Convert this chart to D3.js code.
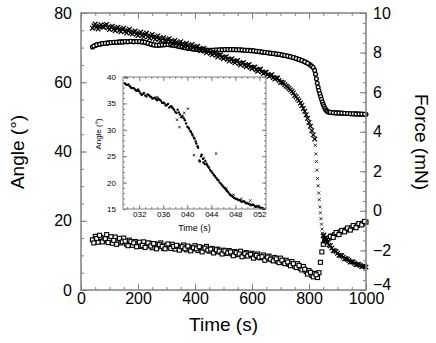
<!DOCTYPE html>
<html lang="en">
<head>
<meta charset="UTF-8">
<script src="https://cdnjs.cloudflare.com/ajax/libs/d3/7.8.5/d3.min.js"></script>
<style>
    body { margin: 0; background: #fff; font-family: "Liberation Sans", Arial, sans-serif; }
    svg { display: block; }
</style>
</head>
<body>
<div id="chart"></div>
<script>
// ---- data ----
// angle, x markers (two interleaved samplings)
const crossTimes = [40,50,60,70,80,90,100,110,120,130,140,150,160,170,180,190,200,210,220,230,240,250,260,270,280,290,300,310,320,330,340,350,360,370,380,390,400,410,420,430,440,450,460,470,480,490,500,510,520,530,540,550,560,570,580,590,600,610,620,630,640,650,660,670,680,690,700,710,720,730,740,750,760,770,780,790,800,805,810,815,820,
    822,824,826,828,830,832,834,836,838,840,842,844,846,848,
    850,855,860,865,870,880,890,900,910,920,930,940,950,960,970,980,990,1000];
const crossAngle = [75.6,76.8,75.4,76.6,75.9,76.7,75.2,76.2,74.9,75.9,74.6,75.6,74.2,75.3,73.9,74.8,73.5,74.5,73.1,74.2,72.7,73.8,72.4,73.4,72.0,72.9,71.7,72.6,71.2,72.1,70.8,71.7,70.4,71.3,70.0,70.9,69.6,70.4,69.1,69.8,68.5,69.2,67.9,68.6,67.3,67.9,66.8,67.4,66.1,66.8,65.6,66.3,65.0,65.7,64.5,65.1,63.9,64.4,63.2,63.8,62.5,62.9,61.7,62.2,60.9,61.2,60.0,59.8,58.9,58.2,57.4,56.2,55.2,54.0,52.4,50.6,48.4,47.3,46.0,44.8,43.6,
    41.8,39.3,37.1,34.6,32.2,30.1,28.0,26.1,24.0,22.3,20.6,19.0,17.6,16.4,
    15.6,14.8,14.2,13.6,13.0,12.1,11.3,10.6,10.0,9.5,9.0,8.5,8.1,7.7,7.4,7.1,6.9,6.6];
const crossTimesB = [45,55,65,75,85,95,105,115,125,135,145,155,165,175,185,195,205,215,225,235,245,255,265,275,285,295,305,315,325,335,345,355,365,375,385,395,405,415,425,435,445,455,465,475,485,495,505,515,525,535,545,555,565,575,585,595,605,615,625,635,645,655,665,675,685,695,705,715,725,735,745,755,765,775,785,795,
    852,857,862,875,885,895,905,915,925,935,945,955,965,975,985,995];
const crossAngleB = [76.3,75.9,76.2,76.0,76.4,75.7,75.9,75.3,75.6,75.0,75.3,74.7,74.9,74.3,74.5,73.9,74.1,73.6,73.8,73.2,73.4,72.9,73.0,72.5,72.6,72.1,72.3,71.7,71.8,71.3,71.4,70.9,71.0,70.5,70.6,70.1,70.2,69.6,69.6,69.0,69.0,68.4,68.4,67.8,67.8,67.2,67.2,66.6,66.6,66.0,66.1,65.4,65.5,64.9,64.9,64.3,64.3,63.6,63.6,63.0,62.8,62.2,62.0,61.4,61.2,60.5,60.0,59.3,58.6,57.8,56.9,55.8,54.7,53.3,51.6,49.6,
    15.9,14.4,14.6,12.8,11.4,11.1,10.0,9.9,9.0,8.9,8.1,8.1,7.3,7.4,6.7,6.9];

// force, open circles (two interleaved samplings)
const circleTimes = [40,50,60,70,80,90,100,110,120,130,140,150,160,170,180,190,200,210,220,230,240,250,260,270,280,290,300,310,320,330,340,350,360,370,380,390,400,410,420,430,440,450,460,470,480,490,500,510,520,530,540,550,560,570,580,590,600,610,620,630,640,650,660,670,680,690,700,710,720,730,740,750,760,770,780,790,800,805,810,815,820,
    823,826,829,832,835,838,841,844,847,850,853,856,859,862,865,870,880,890,900,910,920,930,940,950,960,970,980,990,1000];
const circleForce = [8.28,8.36,8.41,8.44,8.46,8.48,8.50,8.51,8.52,8.53,8.54,8.55,8.55,8.56,8.56,8.56,8.55,8.55,8.54,8.50,8.45,8.40,8.38,8.37,8.38,8.40,8.41,8.40,8.38,8.36,8.33,8.30,8.27,8.24,8.21,8.19,8.17,8.15,8.14,8.13,8.13,8.12,8.12,8.13,8.13,8.14,8.14,8.15,8.15,8.15,8.15,8.14,8.14,8.13,8.12,8.11,8.10,8.08,8.06,8.04,8.02,8.00,7.98,7.96,7.94,7.92,7.90,7.87,7.84,7.81,7.77,7.73,7.68,7.63,7.57,7.50,7.42,7.37,7.31,7.24,7.10,
    6.90,6.68,6.45,6.25,6.08,5.92,5.78,5.64,5.50,5.38,5.27,5.18,5.11,5.06,5.02,4.99,4.97,4.96,4.95,4.94,4.93,4.92,4.92,4.91,4.90,4.90,4.89,4.88,4.88];
const circleTimesB = [45,55,65,75,85,95,105,115,125,135,145,155,165,175,185,195,205,215,225,235,245,255,265,275,285,295,305,315,325,335,345,355,365,375,385,395,405,415,425,435,445,455,465,475,485,495,505,515,525,535,545,555,565,575,585,595,605,615,625,635,645,655,665,675,685,695,705,715,725,735,745,755,765,775,785,795,
    875,885,895,905,915,925,935,945,955,965,975,985,995];
const circleForceB = [8.33,8.40,8.42,8.46,8.47,8.49,8.51,8.52,8.52,8.54,8.54,8.56,8.55,8.57,8.55,8.56,8.56,8.54,8.52,8.47,8.43,8.39,8.37,8.38,8.39,8.40,8.41,8.39,8.37,8.35,8.31,8.28,8.25,8.22,8.20,8.18,8.16,8.14,8.14,8.13,8.12,8.12,8.12,8.13,8.14,8.14,8.15,8.15,8.15,8.15,8.14,8.14,8.13,8.12,8.11,8.09,8.09,8.07,8.05,8.03,8.01,7.99,7.97,7.95,7.93,7.91,7.88,7.85,7.83,7.79,7.75,7.70,7.65,7.60,7.54,7.46,
    4.98,4.96,4.95,4.95,4.94,4.93,4.92,4.91,4.91,4.90,4.89,4.89,4.88];

// angle, open squares (two interleaved samplings)
const squareTimes = [40,50,60,70,80,90,100,110,120,130,140,150,160,170,180,190,200,210,220,230,240,250,260,270,280,290,300,310,320,330,340,350,360,370,380,390,400,410,420,430,440,450,460,470,480,490,500,510,520,530,540,550,560,570,580,590,600,610,620,630,640,650,660,670,680,690,700,710,720,730,740,750,760,770,780,790,800,810,820,830,
    835,840,845,850,855,860,870,880,890,900,910,920,930,940,950,960,970,980,990,1000];
const squareAngle = [14.5,15.5,13.8,15.2,14.2,16.0,14.6,13.5,15.3,14.2,13.6,15.0,13.2,14.4,12.9,14.0,13.4,12.6,13.9,12.8,13.5,12.2,13.3,12.5,13.6,12.0,12.9,12.4,13.2,11.8,12.7,12.1,13.0,11.6,12.4,11.9,12.8,11.4,12.3,11.7,12.6,11.2,12.0,11.0,11.8,10.9,11.5,10.6,11.4,10.4,11.1,10.2,11.2,9.9,10.8,10.0,10.6,9.6,10.4,9.3,10.1,9.0,9.8,8.7,9.4,8.3,9.2,8.0,8.6,7.4,8.2,6.9,7.6,6.2,6.8,5.3,5.6,4.2,4.8,3.6,
    5.0,8.0,11.0,13.2,14.2,14.6,15.0,15.6,16.0,16.3,16.8,17.0,17.4,17.6,18.0,18.3,18.7,19.0,19.3,19.6];
const squareTimesB = [45,55,65,75,85,95,105,115,125,135,145,155,165,175,185,195,205,215,225,235,245,255,265,275,285,295,305,315,325,335,345,355,365,375,385,395,405,415,425,435,445,455,465,475,485,495,505,515,525,535,545,555,565,575,585,595,605,615,625,635,645,655,665,675,685,695,705,715,725,735,745,755,765,775,785,795,805,815,825,
    865,875,885,895,905,915,925,935,945,955,965,975,985,995];
const squareAngleB = [13.6,14.9,15.8,13.9,14.8,13.7,15.4,14.3,13.2,14.9,13.9,14.1,12.8,14.0,13.6,12.5,13.8,12.9,12.3,13.6,12.7,13.4,11.9,13.1,12.6,11.9,13.3,12.0,12.6,12.9,11.5,12.5,11.9,12.7,11.3,12.2,11.9,12.5,11.0,12.1,11.5,11.8,10.7,11.6,11.2,10.4,11.3,10.7,11.0,9.9,10.8,10.4,9.6,10.5,9.8,10.3,9.2,10.0,9.4,9.6,8.6,9.5,8.9,8.4,9.0,7.9,8.6,7.6,8.1,7.0,7.6,6.5,7.1,5.8,6.0,4.6,5.1,3.8,4.4,
    14.9,15.5,15.2,16.6,16.0,17.2,16.8,17.9,17.3,18.6,18.0,19.2,18.8,19.8];

// inset: angle vs time, filled dots and sparse x markers
const insetDotTimes = [0.296,0.298,0.300,0.302,0.304,0.306,0.308,0.310,0.312,0.314,0.316,0.318,0.320,0.322,0.324,0.326,0.328,0.330,0.332,0.334,0.336,0.338,0.340,0.342,0.344,0.346,0.348,0.350,0.352,0.354,0.356,0.358,0.360,0.362,0.364,0.366,0.368,0.370,0.372,0.374,0.376,0.378,0.380,0.382,0.384,0.386,0.388,0.390,0.392,0.394,0.396,0.398,0.400,0.402,0.403,0.405,0.406,0.408,0.409,0.411,0.412,0.414,0.415,0.417,0.418,0.420,0.421,0.423,0.424,0.426,0.427,0.429,0.430,0.432,0.433,0.435,0.436,0.438,0.440,0.442,0.444,0.446,0.448,0.450,0.452,0.454,0.456,0.458,0.460,0.462,0.464,0.466,0.468,0.470,0.472,0.474,0.476,0.478,0.480,0.482,0.484,0.486,0.488,0.490,0.492,0.494,0.496,0.498,0.500,0.502,0.504,0.506,0.508,0.510,0.512,0.514,0.516,0.518,0.520,0.522,0.524,0.526,0.528];
const insetDotAngle = [38.8,38.6,38.5,38.6,38.3,38.0,37.9,37.9,37.8,37.5,37.4,37.6,37.3,36.9,36.6,36.8,37.0,36.5,36.3,36.7,36.6,36.3,36.2,35.9,36.0,36.1,35.8,35.6,35.9,35.7,35.5,35.1,35.2,35.0,34.6,34.7,34.9,34.2,34.4,34.4,34.1,33.8,33.4,33.2,33.8,33.3,32.9,32.4,32.6,32.2,31.8,31.2,30.6,30.4,30.2,29.8,29.6,29.2,28.9,28.5,28.3,27.8,27.4,26.9,26.6,24.2,24.0,25.0,25.3,24.5,23.8,23.5,24.1,23.6,23.3,23.0,22.8,22.4,22.1,21.8,21.5,21.2,20.9,20.6,20.4,20.0,19.8,19.5,19.2,19.0,18.7,18.4,18.2,17.9,17.6,17.5,17.3,17.1,17.0,16.9,16.8,16.7,16.6,16.4,16.4,16.5,16.3,16.1,16.1,16.0,15.9,15.7,15.8,15.8,15.6,15.4,15.5,15.5,15.3,15.2,15.2,15.1,15.0];
const insetCrossTimes = [0.298,0.318,0.350,0.383,0.387,0.395,0.401,0.411,0.428,0.448,0.465,0.477,0.490,0.505,0.518];
const insetCrossAngle = [39.9,37.6,36.2,31.9,30.5,33.2,34.0,25.2,24.6,25.5,18.9,17.7,16.9,16.6,15.6];

// tick values
const timeTicks = [0,200,400,600,800,1000];
const angleTicks = [0,20,40,60,80];
const forceTicks = [-4,-2,0,2,4,6,8,10];
const insetTimeTicks = [0.32,0.36,0.40,0.44,0.48,0.52];
const insetTimeLabels = ["032","036","040","044","048","052"];
const insetAngleTicks = [15,20,25,30,35,40];

// ---- layout ----
const W = 436, H = 343;
const pL = 81, pR = 366, pT = 13, pB = 290;
const axisColor = "#808080";

const svg = d3.select("#chart").append("svg").attr("width", W).attr("height", H);

const x = d3.scaleLinear().domain([0, 1000]).range([pL, pR]);
const yA = d3.scaleLinear().domain([0, 80]).range([pB, pT]);
const yF = d3.scaleLinear().domain([-4, 10]).range([pB, pT]);

function minorTicks(a, b, step) {
    return d3.range(a, b + step / 2, step);
}

function styleAxis(g, fs) {
    g.selectAll(".domain").remove();
    g.selectAll("line").attr("stroke", axisColor).attr("stroke-width", 1);
    g.selectAll("text").attr("fill", "#000").style("font-size", fs + "px")
        .style("font-family", '"Liberation Sans", Arial, sans-serif');
}

const pairs = (ts, vs) => ts.map((t, i) => [t, vs[i]]);

// minor + major ticks, all pointing inward
svg.append("g").attr("transform", `translate(0,${pB})`)
    .call(d3.axisBottom(x).tickValues(minorTicks(0, 1000, 50)).tickSize(-3).tickFormat(""))
    .call(g => styleAxis(g, 16));
svg.append("g").attr("transform", `translate(0,${pB})`)
    .call(d3.axisBottom(x).tickValues(timeTicks).tickSize(-6).tickPadding(3).tickFormat(d3.format("d")))
    .call(g => styleAxis(g, 16));
svg.append("g").attr("transform", `translate(0,${pT})`)
    .call(d3.axisTop(x).tickValues(minorTicks(0, 1000, 50)).tickSize(-3).tickFormat(""))
    .call(g => styleAxis(g, 16));
svg.append("g").attr("transform", `translate(0,${pT})`)
    .call(d3.axisTop(x).tickValues(timeTicks).tickSize(-6).tickFormat(""))
    .call(g => styleAxis(g, 16));

svg.append("g").attr("transform", `translate(${pL},0)`)
    .call(d3.axisLeft(yA).tickValues(minorTicks(0, 80, 5)).tickSize(-3).tickFormat(""))
    .call(g => styleAxis(g, 16));
svg.append("g").attr("transform", `translate(${pL},0)`)
    .call(d3.axisLeft(yA).tickValues(angleTicks).tickSize(-6).tickPadding(9))
    .call(g => styleAxis(g, 16));

svg.append("g").attr("transform", `translate(${pR},0)`)
    .call(d3.axisRight(yF).tickValues(minorTicks(-4, 10, 0.5)).tickSize(-3).tickFormat(""))
    .call(g => styleAxis(g, 16));
svg.append("g").attr("transform", `translate(${pR},0)`)
    .call(d3.axisRight(yF).tickValues(forceTicks).tickSize(-6).tickPadding(7))
    .call(g => styleAxis(g, 16))
    .call(g => g.selectAll(".tick text").filter(d => d === -4).attr("y", -6));

// ---- series ----
const crossPath = s => `M${-s},${-s}L${s},${s}M${-s},${s}L${s},${-s}`;
// the fast drop (~820-850 s) is drawn with sparse, smaller crosses
const inDrop = t => t > 820 && t < 850;

svg.append("g").selectAll("rect")
    .data(pairs(squareTimes, squareAngle).concat(pairs(squareTimesB, squareAngleB)))
    .join("rect")
    .attr("x", d => x(d[0]) - 2).attr("y", d => yA(d[1]) - 2)
    .attr("width", 4).attr("height", 4)
    .attr("fill", "#fff").attr("stroke", "#000").attr("stroke-width", 1.1);

svg.append("g").selectAll("circle")
    .data(pairs(circleTimes, circleForce).concat(pairs(circleTimesB, circleForceB)))
    .join("circle")
    .attr("cx", d => x(d[0])).attr("cy", d => yF(d[1])).attr("r", 1.9)
    .attr("fill", "#fff").attr("stroke", "#000").attr("stroke-width", 1.3);

svg.append("g").selectAll("path")
    .data(pairs(crossTimes, crossAngle).concat(pairs(crossTimesB, crossAngleB)))
    .join("path")
    .attr("transform", d => `translate(${x(d[0])},${yA(d[1])})`)
    .attr("d", d => crossPath(inDrop(d[0]) ? 1.5 : 2.3))
    .attr("stroke", "#000").attr("stroke-width", d => inDrop(d[0]) ? 0.8 : 1.2)
    .attr("fill", "none");

// frame
svg.append("rect").attr("x", pL).attr("y", pT)
    .attr("width", pR - pL).attr("height", pB - pT)
    .attr("fill", "none").attr("stroke", axisColor).attr("stroke-width", 1.5);

// axis titles
svg.append("text").attr("x", (pL + pR) / 2).attr("y", 331)
    .attr("text-anchor", "middle").style("font-size", "19px").text("Time (s)");
svg.append("text").attr("transform", "translate(24,152) rotate(-90)")
    .attr("text-anchor", "middle").style("font-size", "19px").text("Angle (°)");
svg.append("text").attr("transform", "translate(415,142) rotate(90)")
    .attr("text-anchor", "middle").style("font-size", "19px").text("Force (mN)");

// ---- inset ----
const iL = 123, iR = 266, iT = 77, iB = 209;
const ix = d3.scaleLinear().domain([0.293, 0.531]).range([iL, iR]);
const iy = d3.scaleLinear().domain([15, 40]).range([iB, iT]);

const inset = svg.append("g");
inset.append("rect").attr("x", iL).attr("y", iT).attr("width", iR - iL).attr("height", iB - iT)
    .attr("fill", "#fff");

inset.append("g").attr("transform", `translate(0,${iB})`)
    .call(d3.axisBottom(ix).tickValues(minorTicks(0.30, 0.53, 0.01)).tickSize(-2).tickFormat(""))
    .call(g => styleAxis(g, 8));
inset.append("g").attr("transform", `translate(0,${iB})`)
    .call(d3.axisBottom(ix).tickValues(insetTimeTicks).tickSize(-4).tickPadding(2)
        .tickFormat((d, i) => insetTimeLabels[i]))
    .call(g => styleAxis(g, 8));
inset.append("g").attr("transform", `translate(0,${iT})`)
    .call(d3.axisTop(ix).tickValues(minorTicks(0.30, 0.53, 0.01)).tickSize(-2).tickFormat(""))
    .call(g => styleAxis(g, 8));
inset.append("g").attr("transform", `translate(0,${iT})`)
    .call(d3.axisTop(ix).tickValues(insetTimeTicks).tickSize(-4).tickFormat(""))
    .call(g => styleAxis(g, 8));
inset.append("g").attr("transform", `translate(${iL},0)`)
    .call(d3.axisLeft(iy).tickValues(minorTicks(15, 40, 1)).tickSize(-2).tickFormat(""))
    .call(g => styleAxis(g, 8));
inset.append("g").attr("transform", `translate(${iL},0)`)
    .call(d3.axisLeft(iy).tickValues(insetAngleTicks).tickSize(-4).tickPadding(7))
    .call(g => styleAxis(g, 8));
inset.append("g").attr("transform", `translate(${iR},0)`)
    .call(d3.axisRight(iy).tickValues(minorTicks(15, 40, 1)).tickSize(-2).tickFormat(""))
    .call(g => styleAxis(g, 8));
inset.append("g").attr("transform", `translate(${iR},0)`)
    .call(d3.axisRight(iy).tickValues(insetAngleTicks).tickSize(-4).tickFormat(""))
    .call(g => styleAxis(g, 8));

inset.append("g").selectAll("circle")
    .data(pairs(insetDotTimes, insetDotAngle))
    .join("circle")
    .attr("cx", d => ix(d[0])).attr("cy", d => iy(d[1])).attr("r", 1.2)
    .attr("fill", "#000");
inset.append("g").selectAll("path")
    .data(pairs(insetCrossTimes, insetCrossAngle))
    .join("path")
    .attr("transform", d => `translate(${ix(d[0])},${iy(d[1])})`)
    .attr("d", crossPath(1.2))
    .attr("stroke", "#000").attr("stroke-width", 0.8);

inset.append("rect").attr("x", iL).attr("y", iT).attr("width", iR - iL).attr("height", iB - iT)
    .attr("fill", "none").attr("stroke", axisColor).attr("stroke-width", 1);

inset.append("text").attr("x", (iL + iR) / 2).attr("y", 231)
    .attr("text-anchor", "middle").style("font-size", "9px").text("Time (s)");
inset.append("text").attr("transform", "translate(101,134) rotate(-90)")
    .attr("text-anchor", "middle").style("font-size", "8px").text("Angle (°)");
</script>
</body>
</html>
